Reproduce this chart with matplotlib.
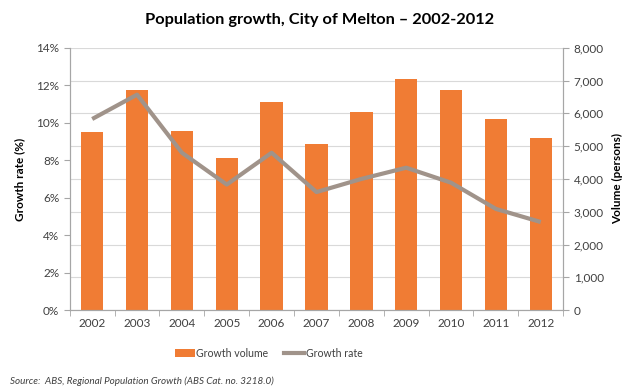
import matplotlib
matplotlib.use('Agg')
import matplotlib.pyplot as plt
from matplotlib.patches import Patch
from matplotlib.lines import Line2D
from matplotlib.ticker import FuncFormatter

plt.rcParams['font.family'] = ['Lato', 'DejaVu Sans']

# data
years = ['2002', '2003', '2004', '2005', '2006', '2007', '2008', '2009', '2010', '2011', '2012']
volume = [5420, 6700, 5450, 4630, 6350, 5070, 6040, 7050, 6720, 5820, 5240]
rate = [10.2, 11.5, 8.4, 6.7, 8.4, 6.3, 7.0, 7.6, 6.8, 5.4, 4.7]

bar_color = '#F07C34'
line_color = '#A0938A'
axis_color = '#A6A6A6'
text_color = '#404040'

fig = plt.figure(figsize=(6.4, 3.92), dpi=100)
ax = fig.add_axes([0.109, 0.209, 0.771, 0.669])
# twin first: twinx() resets the original's ticks to the left
ax2 = ax.twinx()

x = range(len(years))
ax.bar(x, volume, width=0.5, color=bar_color, zorder=2)
ax.set_ylim(0, 8000)
ax.set_xlim(-0.5, len(years) - 0.5)
ax.set_yticks(range(0, 8001, 1000))
ax.yaxis.set_major_formatter(FuncFormatter(lambda v, p: f'{int(v):,}'))
ax.yaxis.tick_right()
ax.yaxis.set_label_position('right')
ax.set_ylabel('Volume (persons)', fontsize=8.5, fontweight='bold', color='black', labelpad=6)
ax.grid(axis='y', color='#D9D9D9', linewidth=0.8, zorder=0)
ax.set_axisbelow(True)

ax.set_xticks(list(x))
ax.set_xticklabels(years)
ax.set_xticks([i - 0.5 for i in range(len(years) + 1)], minor=True)
ax.tick_params(axis='x', which='major', length=0, pad=6, labelsize=8.5, colors=text_color)
ax.tick_params(axis='x', which='minor', length=4, color=axis_color)
ax.tick_params(axis='y', length=4, color=axis_color, labelsize=8.5, labelcolor=text_color)

ax2.plot(list(x), rate, color=line_color, linewidth=3, solid_capstyle='butt', zorder=3)
ax2.set_ylim(0, 14)
ax2.set_yticks(range(0, 15, 2))
ax2.yaxis.set_major_formatter(FuncFormatter(lambda v, p: f'{int(v)}%'))
ax2.yaxis.tick_left()
ax2.yaxis.set_label_position('left')
ax2.set_ylabel('Growth rate (%)', fontsize=8.5, fontweight='bold', color='black', labelpad=8)
ax2.tick_params(axis='y', length=4, color=axis_color, labelsize=8.5, labelcolor=text_color)

for a in (ax, ax2):
    a.spines['top'].set_visible(False)
    for s in ('left', 'right', 'bottom'):
        a.spines[s].set_color(axis_color)

fig.text(0.5, 0.948, 'Population growth, City of Melton \u2013 2002-2012',
         ha='center', va='center', fontsize=11.8, fontweight='bold', color='black')

handles = [Patch(facecolor=bar_color, edgecolor='none'),
           Line2D([0], [0], color=line_color, linewidth=3)]
fig.legend(handles, ['Growth volume', 'Growth rate'], loc='center',
           bbox_to_anchor=(0.42, 0.099), ncol=2, frameon=False, fontsize=7.6,
           handlelength=1.9, handletextpad=0.1, columnspacing=1.5,
           labelcolor=text_color)

fig.text(0.016, 0.028, 'Source:  ABS, Regional Population Growth (ABS Cat. no. 3218.0)',
         ha='left', va='center', fontsize=7.1, style='italic', color=text_color)

fig.savefig('out.png', dpi=100)
